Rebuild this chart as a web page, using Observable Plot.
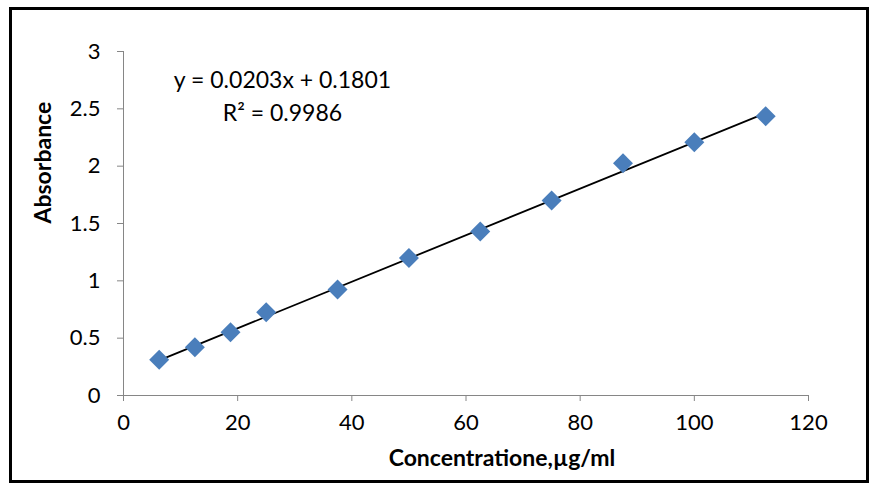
<!DOCTYPE html>
<html>
<head>
<meta charset="utf-8">
<script src="https://cdn.jsdelivr.net/npm/d3@7"></script>
<script src="https://cdn.jsdelivr.net/npm/@observablehq/plot@0.6"></script>
<style>
  html, body { margin: 0; padding: 0; background: #fff; }
  #wrap { position: relative; width: 869px; height: 487px; }
  #border { position: absolute; left: 9px; top: 7px; width: 854px; height: 470px; border: 3px solid #000; pointer-events: none; }
</style>
</head>
<body>
<div id="wrap"><div id="border"></div></div>
<script>
const concentration = [6.25, 12.5, 18.75, 25, 37.5, 50, 62.5, 75, 87.5, 100, 112.5];
const absorbance = [0.311, 0.421, 0.552, 0.726, 0.924, 1.20, 1.43, 1.70, 2.026, 2.209, 2.436];
const xTicks = [0, 20, 40, 60, 80, 100, 120];
const yTicks = [0, 0.5, 1, 1.5, 2, 2.5, 3];
const slope = 0.0203, intercept = 0.1801;
const equationLines = ["y = 0.0203x + 0.1801", "R² = 0.9986"];
const xTitle = "Concentratione,µg/ml";
const yTitle = "Absorbance";

const points = concentration.map((c, i) => ({x: c, y: absorbance[i]}));
const xMin = d3.min(concentration), xMax = d3.max(concentration);
const trend = [xMin, xMax].map(x => ({x, y: slope * x + intercept}));
const eqData = [{x: 27.85, y: 2.747, t: equationLines[0]}, {x: 27.85, y: 2.459, t: equationLines[1]}];

const chart = Plot.plot({
  width: 869,
  height: 487,
  marginLeft: 123,
  marginRight: 61,
  marginTop: 51,
  marginBottom: 92,
  style: {fontFamily: "Lato, 'Open Sans', sans-serif", fontSize: "22px", color: "#000", background: "transparent", overflow: "visible"},
  x: {domain: [0, 120]},
  y: {domain: [0, 3]},
  marks: [
    Plot.ruleX([0], {stroke: "#868686"}),
    Plot.ruleY([0], {stroke: "#868686"}),
    Plot.axisX({ticks: xTicks, tickSize: 6, tickPadding: 13, stroke: "#868686", fill: "#000", fontSize: 22, label: null, tickFormat: d => String(d)}),
    Plot.axisY({ticks: yTicks, tickSize: 6, tickPadding: 17, stroke: "#868686", fill: "#000", fontSize: 22, label: null, tickFormat: d => String(d)}),
    Plot.line(trend, {x: "x", y: "y", stroke: "#000", strokeWidth: 1.8}),
    Plot.dot(points, {x: "x", y: "y", symbol: "diamond2", r: 9, fill: "#4A7EBB", stroke: "none"}),
    Plot.text(eqData, {x: "x", y: "y", text: "t", fontSize: 23, fill: "#000"}),
    Plot.text([yTitle], {frameAnchor: "left", rotate: -90, dx: -80, fontSize: 23, fontWeight: "bold", fill: "#000"}),
    Plot.text([xTitle], {frameAnchor: "bottom", dx: 36, dy: 70, fontSize: 23, fontWeight: "bold", fill: "#000"})
  ]
});
document.getElementById("wrap").prepend(chart);
</script>
</body>
</html>
